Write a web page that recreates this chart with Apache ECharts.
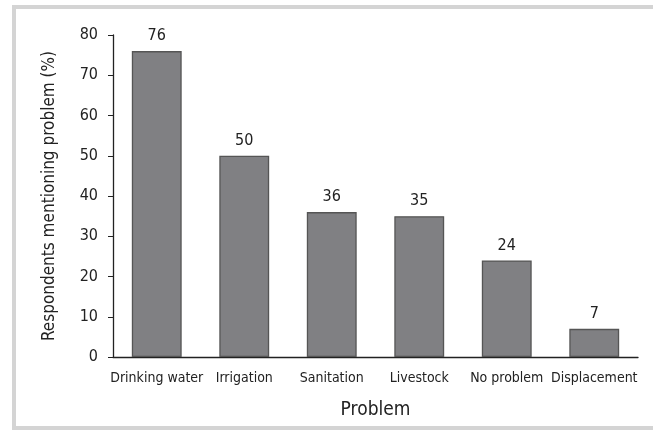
<!DOCTYPE html>
<html>
<head>
<meta charset="utf-8">
<script src="https://cdn.jsdelivr.net/npm/echarts@6/dist/echarts.min.js"></script>
<style>
    html, body { margin: 0; padding: 0; background: #fff; }
    #frame {
        position: absolute; left: 12px; top: 5px; width: 660px; height: 425px;
        border: 4px solid #d4d4d4; box-sizing: border-box;
    }
    #chart { position: absolute; left: 0; top: 0; width: 653px; height: 430px; }
</style>
</head>
<body>
<div id="frame"></div>
<div id="chart"></div>
<script>
// Data
const problems = ['Drinking water', 'Irrigation', 'Sanitation', 'Livestock', 'No problem', 'Displacement'];
const respondents = [76, 50, 36, 35, 24, 7];
const yTicks = [0, 10, 20, 30, 40, 50, 60, 70, 80];

const font = '"DejaVu Sans Condensed", "Liberation Sans Narrow", sans-serif';
let chart = echarts.init(document.getElementById('chart'));

let option = {
    animation: false,
    grid: { left: 113, right: 15, top: 35, bottom: 73 },
    xAxis: {
        type: 'category',
        data: problems,
        name: 'Problem',
        nameLocation: 'middle',
        nameGap: 44,
        nameTextStyle: { fontFamily: font, fontSize: 19, color: '#222' },
        axisLine: { lineStyle: { color: '#222', width: 1.3 } },
        axisTick: { show: false },
        axisLabel: { interval: 0, margin: 14, fontFamily: font, fontSize: 14, color: '#222' }
    },
    yAxis: {
        type: 'value',
        min: yTicks[0],
        max: yTicks[yTicks.length - 1],
        interval: 10,
        name: 'Respondents mentioning problem (%)',
        nameLocation: 'middle',
        nameGap: 55,
        nameTextStyle: { fontFamily: font, fontSize: 17, color: '#222' },
        axisLine: { show: true, lineStyle: { color: '#222', width: 1.3 } },
        axisTick: { show: true, length: 5, lineStyle: { color: '#222' } },
        splitLine: { show: false },
        axisLabel: { margin: 15, fontFamily: font, fontSize: 16, color: '#222' }
    },
    series: [{
        type: 'bar',
        data: respondents,
        barWidth: '57%',
        itemStyle: { color: '#808083', borderColor: '#555', borderWidth: 1.3 },
        label: {
            show: true, position: 'top', distance: 7,
            fontFamily: font, fontSize: 16, color: '#222'
        }
    }]
};

chart.setOption(option);
</script>
</body>
</html>
